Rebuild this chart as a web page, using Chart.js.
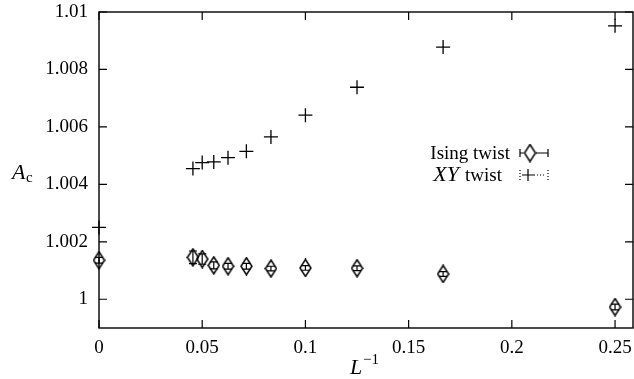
<!DOCTYPE html>
<html>
<head>
<meta charset="utf-8">
<script src="https://cdn.jsdelivr.net/npm/chart.js@4/dist/chart.umd.min.js"></script>
<style>
  html, body { margin: 0; padding: 0; background: #fff; }
  #chart { display: block; }
</style>
</head>
<body>
<canvas id="chart" width="634" height="379"></canvas>
<script>
// L^-1 values (L = inf, 22, 20, 18, 16, 14, 12, 10, 8, 6, 4)
const invL = [0, 0.0455, 0.05, 0.0556, 0.0625, 0.0714, 0.0833, 0.1, 0.125, 0.1667, 0.25];

const isingY = [1.00136, 1.00146, 1.0014, 1.00118, 1.00115, 1.00115, 1.00107, 1.00109, 1.00108, 1.00088, 0.99973];
const isingErr = [0.0001, 0.00022, 0.00018, 0.00012, 0.0001, 0.0001, 0.00008, 0.00008, 0.00008, 0.00008, 0.0001];

const xyY = [1.0025, 1.00455, 1.00476, 1.00478, 1.00493, 1.00515, 1.00565, 1.00641, 1.00738, 1.00878, 1.00952];

const xTicks = [0, 0.05, 0.1, 0.15, 0.2, 0.25];
const yTicks = [1, 1.002, 1.004, 1.006, 1.008, 1.01];

const serif = "'Liberation Serif', 'DejaVu Serif', serif";

// tall open diamond used as point marker
function diamond() {
  const c = document.createElement("canvas");
  c.width = 13;
  c.height = 19;
  const g = c.getContext("2d");
  g.strokeStyle = "#000";
  g.lineWidth = 1.5;
  g.beginPath();
  g.moveTo(6.5, 1);
  g.lineTo(12, 9.5);
  g.lineTo(6.5, 18);
  g.lineTo(1, 9.5);
  g.closePath();
  g.stroke();
  return c;
}
const diamondImg = diamond();

const framePlugin = {
  id: "frame",
  afterDatasetsDraw(chart) {
    const { ctx, chartArea: a, scales } = chart;
    ctx.save();
    ctx.strokeStyle = "#000";
    ctx.lineWidth = 1.4;
    ctx.strokeRect(a.left, a.top, a.right - a.left, a.bottom - a.top);
    ctx.lineWidth = 1.2;
    ctx.beginPath();
    xTicks.forEach((v) => {
      const px = scales.x.getPixelForValue(v);
      ctx.moveTo(px, a.bottom); ctx.lineTo(px, a.bottom - 8);
      ctx.moveTo(px, a.top); ctx.lineTo(px, a.top + 8);
    });
    yTicks.forEach((v) => {
      const py = scales.y.getPixelForValue(v);
      ctx.moveTo(a.left, py); ctx.lineTo(a.left + 8, py);
      ctx.moveTo(a.right, py); ctx.lineTo(a.right - 8, py);
    });
    ctx.stroke();

    // error bars of the Ising twist points
    ctx.lineWidth = 1.2;
    ctx.beginPath();
    invL.forEach((v, i) => {
      const px = scales.x.getPixelForValue(v);
      const y1 = scales.y.getPixelForValue(isingY[i] + isingErr[i]);
      const y2 = scales.y.getPixelForValue(isingY[i] - isingErr[i]);
      ctx.moveTo(px, y1); ctx.lineTo(px, y2);
      ctx.moveTo(px - 4, y1); ctx.lineTo(px + 4, y1);
      ctx.moveTo(px - 4, y2); ctx.lineTo(px + 4, y2);
    });
    ctx.stroke();

    // legend
    ctx.fillStyle = "#000";
    ctx.textBaseline = "alphabetic";
    ctx.textAlign = "right";
    ctx.font = "19px " + serif;
    ctx.fillText("Ising twist", 510, 159);
    ctx.fillText("twist", 502, 181);
    const tw = ctx.measureText("twist").width;
    ctx.font = "italic 22px " + serif;
    ctx.fillText("XY", 502 - tw - 6, 181);

    ctx.drawImage(diamondImg, 530 - 6.5, 153 - 9.5);
    ctx.lineWidth = 1.2;
    ctx.beginPath();
    ctx.moveTo(520, 153); ctx.lineTo(524, 153);
    ctx.moveTo(536, 153); ctx.lineTo(548, 153);
    ctx.moveTo(520, 149); ctx.lineTo(520, 157);
    ctx.moveTo(548, 149); ctx.lineTo(548, 157);
    ctx.moveTo(522, 175); ctx.lineTo(534, 175);
    ctx.moveTo(528, 169); ctx.lineTo(528, 181);
    ctx.stroke();
    ctx.setLineDash([1, 2]);
    ctx.beginPath();
    ctx.moveTo(520, 170); ctx.lineTo(520, 180);
    ctx.moveTo(548, 170); ctx.lineTo(548, 180);
    ctx.moveTo(534, 175); ctx.lineTo(546, 175);
    ctx.stroke();
    ctx.setLineDash([]);

    // axis titles
    ctx.textAlign = "left";
    ctx.font = "italic 22px " + serif;
    ctx.fillText("A", 12, 179);
    ctx.font = "15px " + serif;
    ctx.fillText("c", 26, 182);
    ctx.font = "italic 22px " + serif;
    ctx.fillText("L", 350, 374);
    ctx.font = "15px " + serif;
    ctx.fillText("\u22121", 363, 364);
    ctx.restore();
  },
};

new Chart(document.getElementById("chart"), {
  type: "scatter",
  data: {
    datasets: [
      {
        label: "Ising twist",
        data: invL.map((x, i) => ({ x: x, y: isingY[i] })),
        pointStyle: diamondImg,
        pointRadius: 7,
        clip: false,
      },
      {
        label: "XY twist",
        data: invL.map((x, i) => ({ x: x, y: xyY[i] })),
        pointStyle: "cross",
        pointRadius: 7,
        borderColor: "#000",
        backgroundColor: "#000",
        borderWidth: 1.3,
        clip: false,
      },
    ],
  },
  options: {
    responsive: false,
    animation: false,
    devicePixelRatio: 1,
    layout: { autoPadding: false, padding: { top: 12, right: 1, left: 0, bottom: 0 } },
    plugins: { legend: { display: false }, tooltip: { enabled: false } },
    scales: {
      x: {
        type: "linear",
        min: 0,
        max: 0.2587,
        grid: { display: false, drawTicks: false },
        border: { display: false },
        afterBuildTicks: (s) => { s.ticks = xTicks.map((v) => ({ value: v })); },
        afterFit: (s) => { s.height = 51; s.paddingLeft = 0; s.paddingRight = 0; },
        ticks: {
          color: "#000",
          padding: 9,
          maxRotation: 0,
          font: { family: serif, size: 19 },
          callback: (v) => String(+v.toFixed(3)),
        },
      },
      y: {
        type: "linear",
        min: 0.999,
        max: 1.01,
        grid: { display: false, drawTicks: false },
        border: { display: false },
        afterBuildTicks: (s) => { s.ticks = yTicks.map((v) => ({ value: v })); },
        afterFit: (s) => { s.width = 99; s.paddingTop = 0; s.paddingBottom = 0; },
        ticks: {
          color: "#000",
          padding: 11,
          font: { family: serif, size: 19 },
          callback: (v) => String(+v.toFixed(3)),
        },
      },
    },
  },
  plugins: [framePlugin],
});
</script>
</body>
</html>
